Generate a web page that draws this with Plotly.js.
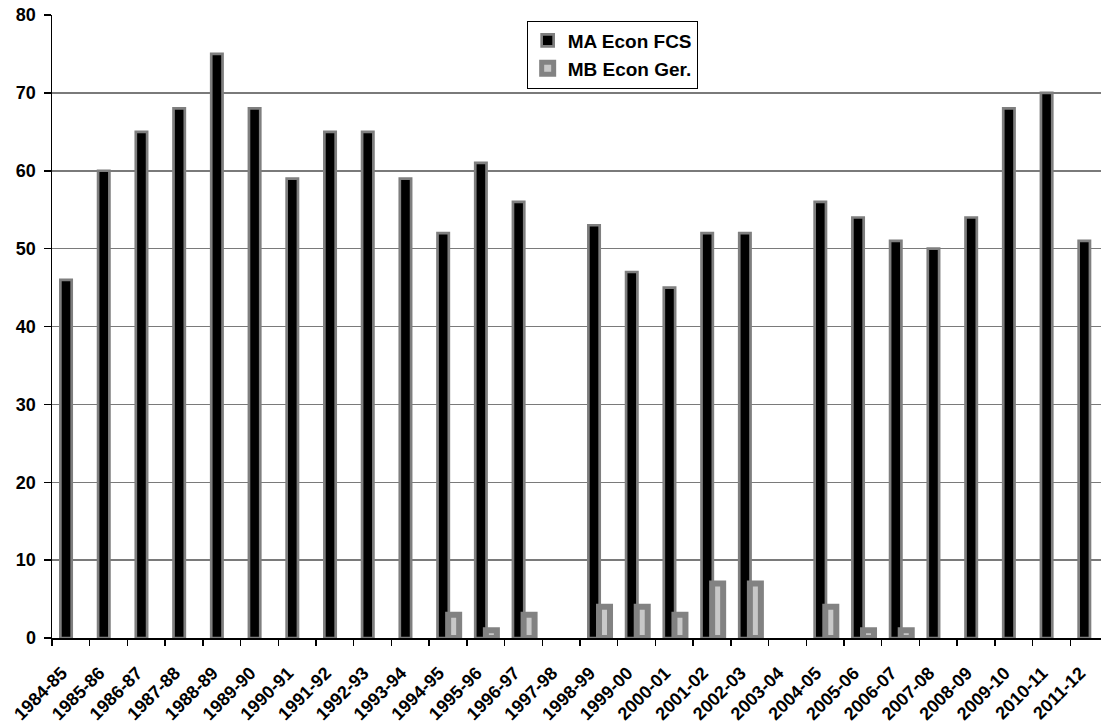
<!DOCTYPE html>
<html>
<head>
<meta charset="utf-8">
<script src="https://cdn.plot.ly/plotly-3.0.1.min.js"></script>
<style>
html,body{margin:0;padding:0;overflow:hidden;background:#fff;}
#chart{width:1108px;height:726px;}
</style>
</head>
<body>
<div id="chart"></div>
<script>
const years = ["1984-85","1985-86","1986-87","1987-88","1988-89","1989-90","1990-91","1991-92","1992-93","1993-94","1994-95","1995-96","1996-97","1997-98","1998-99","1999-00","2000-01","2001-02","2002-03","2003-04","2004-05","2005-06","2006-07","2007-08","2008-09","2009-10","2010-11","2011-12"];
const maEconFCS = [46,60,65,68,75,68,59,65,65,59,52,61,56,null,53,47,45,52,52,null,56,54,51,50,54,68,70,51];
const mbEconGer = [null,null,null,null,null,null,null,null,null,null,3,1,3,null,4,4,3,7,7,null,4,1,1,null,null,null,null,null];
const seriesNames = ["MA Econ FCS","MB Econ Ger."];
const yTicks = [0,10,20,30,40,50,60,70,80];

const fontFam = '"Liberation Sans", Arial, sans-serif';
const tickFont = {family: fontFam, size: 18, color: '#000', weight: 'bold'};
const legendFont = {family: fontFam, size: 19, color: '#000', weight: 'bold'};

const traces = [
  {
    type: 'bar', name: seriesNames[0], x: years, y: maEconFCS,
    legendgroup: 'a',
    offset: -0.278, width: 0.30,
    marker: {color: '#000000', line: {color: '#7f7f7f', width: 2.7}},
    hoverinfo: 'x+y'
  },
  {
    type: 'bar', name: seriesNames[1], x: years, y: mbEconGer,
    legendgroup: 'b',
    offset: 0.004, width: 0.292,
    marker: {color: '#c8c8c8', line: {color: '#828282', width: 6}},
    hoverinfo: 'x+y'
  }
];

const layout = {
  width: 1108, height: 726,
  margin: {l: 52, r: 0, t: 15, b: 88},
  paper_bgcolor: '#ffffff', plot_bgcolor: '#ffffff',
  barmode: 'overlay',
  font: tickFont,
  showlegend: true,
  legend: {
    x: 0.4495, xanchor: 'left', y: 0.991, yanchor: 'top',
    bgcolor: '#ffffff', bordercolor: '#000000', borderwidth: 1,
    font: legendFont,
    traceorder: 'grouped', itemwidth: 30, tracegroupgap: 0
  },
  xaxis: {
    type: 'category', range: [-0.5, 27.5],
    showline: true, linecolor: '#000', linewidth: 1.5,
    ticks: 'outside', tickson: 'boundaries', ticklen: 6, tickcolor: '#000', tickwidth: 1.5,
    tickangle: -45, ticklabelstandoff: 16, ticklabelshift: -9,
    tickfont: tickFont,
    showgrid: false, zeroline: false, fixedrange: true
  },
  yaxis: {
    range: [0, 80], tickvals: yTicks, ticktext: yTicks.map(String),
    showline: true, linecolor: '#000', linewidth: 1.5,
    ticks: 'outside', ticklen: 7, tickcolor: '#000', tickwidth: 1.5,
    ticklabelstandoff: 4,
    tickfont: tickFont,
    showgrid: true, gridcolor: '#7a7a7a', gridwidth: 1.5,
    zeroline: false, fixedrange: true
  }
};

Plotly.newPlot('chart', traces, layout, {displayModeBar: false, staticPlot: true});
</script>
</body>
</html>
